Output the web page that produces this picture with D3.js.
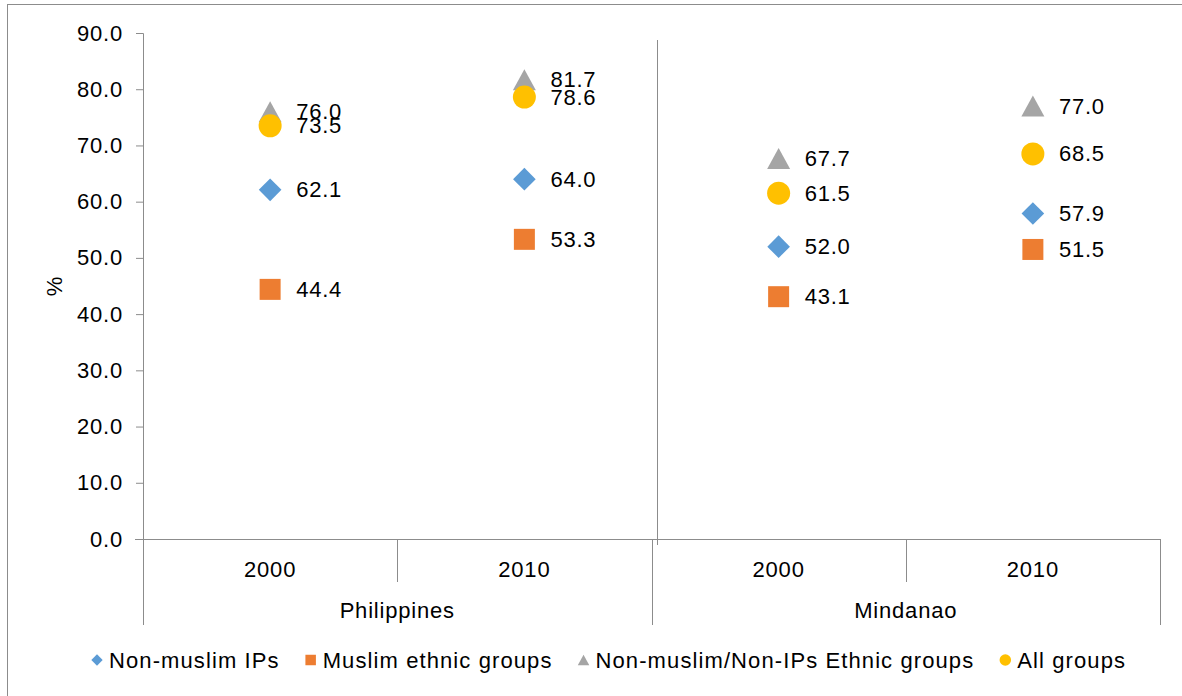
<!DOCTYPE html>
<html>
<head>
<meta charset="utf-8">
<script src="https://cdn.jsdelivr.net/npm/d3@7"></script>
<style>
  body { margin: 0; background: #fff; }
  svg { font-family: "Liberation Sans", Arial, sans-serif; }
  svg text { letter-spacing: 0.8px; }
  svg .legend text { letter-spacing: 1.1px; }
</style>
</head>
<body>
<svg width="1182" height="696"></svg>
<script>
'use strict';

// data
const groups = ["Philippines", "Mindanao"];
const years = ["2000", "2010"];
const nonMuslimIPs = [62.1, 64.0, 52.0, 57.9];
const muslimEthnic = [44.4, 53.3, 43.1, 51.5];
const nonMuslimNonIPs = [76.0, 81.7, 67.7, 77.0];
const allGroups = [73.5, 78.6, 61.5, 68.5];
const yTicks = [0, 10, 20, 30, 40, 50, 60, 70, 80, 90];

const cats = [];
groups.forEach(g => years.forEach(y => cats.push({group: g, year: y, key: g + "|" + y})));

const series = [
  {name: "Non-muslim IPs", values: nonMuslimIPs, color: "#5B9BD5", shape: "diamond"},
  {name: "Muslim ethnic groups", values: muslimEthnic, color: "#ED7D31", shape: "square"},
  {name: "Non-muslim/Non-IPs Ethnic groups", values: nonMuslimNonIPs, color: "#A5A5A5", shape: "triangle"},
  {name: "All groups", values: allGroups, color: "#FFC000", shape: "circle"}
];

const width = 1182, height = 696;
const margin = {left: 143, right: 22, top: 33, bottom: 157};
const fs = 22;

let svg = d3.select("svg")
  .attr("viewBox", [0, 0, width, height]);

svg.append("rect")
  .attr("x", 7.5).attr("y", 4.5)
  .attr("width", 1200).attr("height", 700)
  .attr("fill", "none")
  .attr("stroke", "#8c8c8c");

let x = d3.scaleBand()
  .domain(cats.map(d => d.key))
  .range([margin.left, width - margin.right]);

let y = d3.scaleLinear()
  .domain([0, 90])
  .range([height - margin.bottom, margin.top]);

const axisColor = "#8c8c8c";

// y axis
let yAxis = svg.append("g")
  .attr("transform", `translate(${margin.left},0)`)
  .call(d3.axisLeft(y).tickValues(yTicks).tickFormat(d3.format(".1f")).tickSize(7).tickPadding(13));
yAxis.select(".domain").attr("stroke", axisColor);
yAxis.selectAll(".tick line").attr("stroke", axisColor);
yAxis.selectAll(".tick text").attr("font-size", fs).attr("fill", "#000").attr("font-family", null);

svg.append("text")
  .attr("transform", `translate(62,${y(45)}) rotate(-90)`)
  .attr("text-anchor", "middle")
  .attr("font-size", fs)
  .text("%");

// x axis line
const y0 = y(0);
svg.append("line")
  .attr("x1", margin.left - 8).attr("x2", width - margin.right)
  .attr("y1", y0 + 0.5).attr("y2", y0 + 0.5)
  .attr("stroke", axisColor);

// inner ticks between years
svg.append("g").selectAll("line")
  .data(cats.filter((d, i) => i % 2 === 1))
  .join("line")
    .attr("x1", d => Math.round(x(d.key)) + 0.5)
    .attr("x2", d => Math.round(x(d.key)) + 0.5)
    .attr("y1", y0).attr("y2", y0 + 43)
    .attr("stroke", axisColor);

// group separators
const sepX = [margin.left, x(cats[2].key), width - margin.right];
svg.append("g").selectAll("line")
  .data(sepX)
  .join("line")
    .attr("x1", d => Math.round(d) + 0.5)
    .attr("x2", d => Math.round(d) + 0.5)
    .attr("y1", y0).attr("y2", y0 + 86)
    .attr("stroke", axisColor);

// separator inside plot
svg.append("line")
  .attr("x1", Math.round(x(cats[2].key)) + 5.5)
  .attr("x2", Math.round(x(cats[2].key)) + 5.5)
  .attr("y1", y(90) + 7).attr("y2", y0 + 6)
  .attr("stroke", axisColor);

// year labels
svg.append("g").selectAll("text")
  .data(cats)
  .join("text")
    .attr("x", d => x(d.key) + x.bandwidth() / 2)
    .attr("y", y0 + 30)
    .attr("text-anchor", "middle")
    .attr("dominant-baseline", "central")
    .attr("font-size", fs)
    .text(d => d.year);

// group labels
svg.append("g").selectAll("text")
  .data(groups)
  .join("text")
    .attr("x", g => x(g + "|" + years[0]) + x.bandwidth())
    .attr("y", y0 + 71)
    .attr("text-anchor", "middle")
    .attr("dominant-baseline", "central")
    .attr("font-size", fs)
    .text(g => g);

function shapePath(shape, s) {
  if (shape === "diamond") return d3.symbol(d3.symbolSquare, 16 * 16 * s * s)();
  if (shape === "square") return d3.symbol(d3.symbolSquare, 21 * 21 * s * s)();
  if (shape === "triangle") {
    const w = 11.5 * s, h = 10.5 * s;
    return `M0,${-h}L${w},${h}L${-w},${h}Z`;
  }
  return d3.symbol(d3.symbolCircle, Math.PI * 11.5 * 11.5 * s * s)();
}

// markers
series.forEach(sr => {
  svg.append("g").selectAll("path")
    .data(sr.values)
    .join("path")
      .attr("d", shapePath(sr.shape, 1))
      .attr("fill", sr.color)
      .attr("transform", (v, i) => `translate(${x(cats[i].key) + x.bandwidth() / 2},${y(v)})` + (sr.shape === "diamond" ? " rotate(45)" : ""));
});

// data labels
series.forEach(sr => {
  svg.append("g").selectAll("text")
    .data(sr.values)
    .join("text")
      .attr("x", (v, i) => x(cats[i].key) + x.bandwidth() / 2 + 26)
      .attr("y", v => y(v))
      .attr("dominant-baseline", "central")
      .attr("font-size", fs)
      .text(v => d3.format(".1f")(v));
});

// legend
let legend = svg.append("g").attr("class", "legend").attr("transform", `translate(0,660)`);
let lx = 97;
series.forEach(sr => {
  legend.append("path")
    .attr("d", shapePath(sr.shape, 0.5))
    .attr("fill", sr.color)
    .attr("transform", `translate(${lx},0)` + (sr.shape === "diamond" ? " rotate(45)" : ""));
  let t = legend.append("text")
    .attr("x", lx + 12)
    .attr("dominant-baseline", "central")
    .attr("font-size", fs)
    .text(sr.name);
  lx += 12 + t.node().getComputedTextLength() + 31;
});
</script>
</body>
</html>
